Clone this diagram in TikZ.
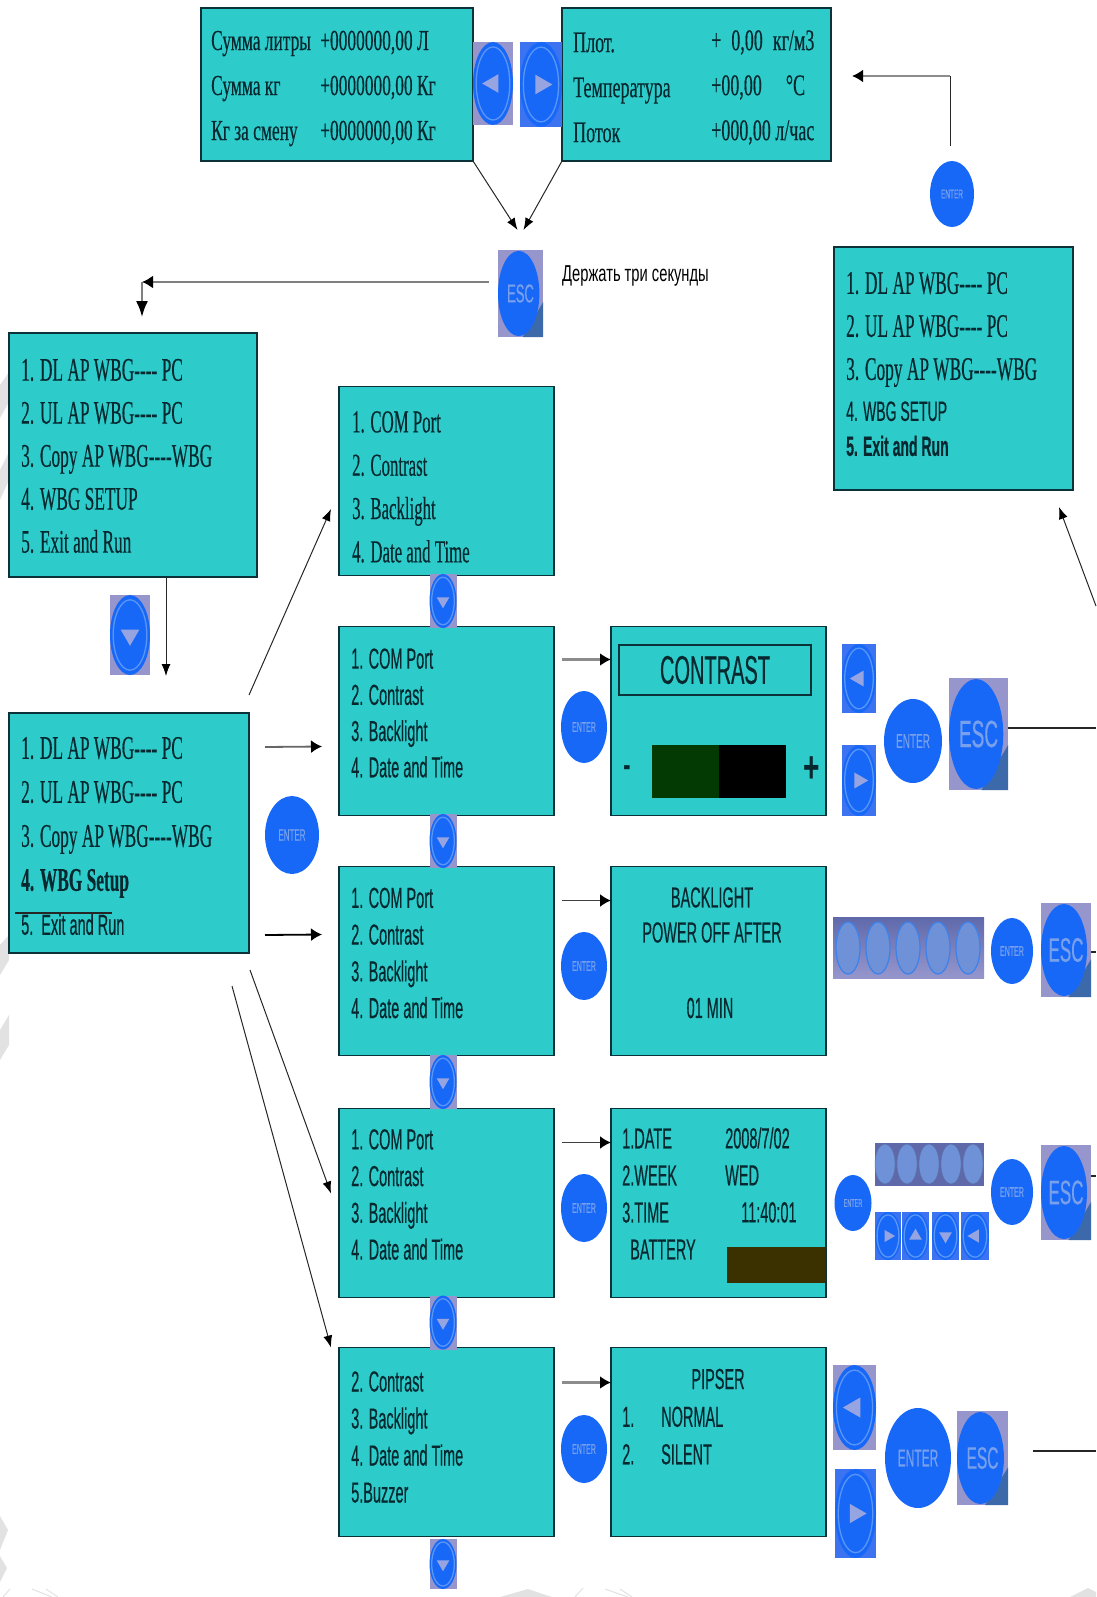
\documentclass[tikz,border=0pt]{standalone}
\usepackage{fontspec}
\usetikzlibrary{arrows.meta,positioning,calc,shapes.geometric}
\newfontfamily\lcdserif[FakeStretch=0.525,FakeBold=0.3]{Liberation Serif}
\newfontfamily\topserif[FakeStretch=0.6,FakeBold=0.3]{Liberation Serif}
\newfontfamily\lcdsans[FakeStretch=0.5,FakeBold=0.3]{Liberation Sans}
\newfontfamily\widesans[FakeStretch=0.64]{Liberation Sans}
\newcommand{\serifsize}[2]{\lcdserif\fontsize{#1}{#2}\selectfont}
\newcommand{\topsize}[2]{\topserif\fontsize{#1}{#2}\selectfont}
\newcommand{\sanssize}[2]{\lcdsans\fontsize{#1}{#2}\selectfont}
\newcommand{\widesize}[2]{\widesans\fontsize{#1}{#2}\selectfont}
\definecolor{lcdfill}{RGB}{46,203,203}
\definecolor{lcdedge}{RGB}{10,50,56}
\definecolor{lcdink}{RGB}{6,40,46}
\definecolor{keyblue}{RGB}{24,104,248}
\definecolor{keyring}{RGB}{90,150,245}
\definecolor{keyback}{RGB}{150,150,205}
\definecolor{keybacktwo}{RGB}{60,115,240}
\definecolor{keymark}{RGB}{150,165,225}
\definecolor{keytext}{RGB}{120,160,235}
\definecolor{keycorner}{RGB}{60,105,170}
\definecolor{stripkey}{RGB}{110,145,215}
\definecolor{stripring}{RGB}{60,130,235}
\definecolor{stripdark}{RGB}{95,105,170}
\definecolor{wmark}{RGB}{226,226,226}
\tikzset{
  arrowkey/.style n args={3}{rectangle,inner sep=0pt,outer sep=0pt,fill=keyback,minimum width=#2pt,minimum height=#3pt,
    path picture={
      \coordinate (kc) at (path picture bounding box.center);
      \fill[keyblue] (kc) ellipse [x radius={0.5*#2pt},y radius={0.5*#3pt}];
      \draw[keyring,line width=1.3pt] (kc) ellipse [x radius={0.42*#2pt},y radius={0.44*#3pt}];
      \fill[keymark] ([shift={(#1:{0.27*#2pt})}]kc) -- ([shift={({#1+120}:{0.27*#2pt})}]kc) -- ([shift={({#1+240}:{0.27*#2pt})}]kc) -- cycle;
    }},
  esckey/.style 2 args={rectangle,inner sep=0pt,outer sep=0pt,fill=keyback,text=keytext,minimum width=#1pt,minimum height=#2pt,
    path picture={
      \coordinate (kc) at (path picture bounding box.center);
      \fill[keycorner] (path picture bounding box.south east) -- ++({-0.45*#1pt},0pt) -- ++({0.45*#1pt},{0.4*#2pt}) -- cycle;
      \fill[keyblue] ([xshift={-0.04*#1pt}]kc) ellipse [x radius={0.46*#1pt},y radius={0.49*#2pt}];
    }},
  enterkey/.style 2 args={ellipse,inner sep=0pt,outer sep=0pt,fill=keyblue,text=keytext,minimum width=#1pt,minimum height=#2pt}
}
\begin{document}
\begin{tikzpicture}[x=1pt,y=-1pt]
        \tikzstyle{lcd} = [rectangle,draw=lcdedge,fill=lcdfill,line width=1.8pt,inner sep=0pt,outer sep=0pt]
        \tikzstyle{scr} = [anchor=west,align=left,inner sep=0pt,text=lcdink]
        \tikzstyle{mid} = [lcd,minimum width=215pt,minimum height=189pt]
        \tikzstyle{fkey} = [ellipse,fill=stripkey,draw=stripring,line width=1.2pt,inner sep=0pt,minimum width=24pt,minimum height=52pt,node distance=30pt]
        \tikzstyle{gkey} = [ellipse,fill=stripkey,draw=stripkey!80!black,inner sep=0pt,minimum width=20pt,minimum height=40pt,node distance=22pt]
        \tikzstyle{flowgray} = [draw=black!45,line width=2.4pt,-{Latex[black,length=11pt,width=13pt]}]
        \tikzstyle{flowdark} = [draw=black!75,line width=1.8pt,-{Latex[black,length=11pt,width=13pt]}]
        \tikzstyle{link} = [draw=black!85,line width=1pt,-{Latex[black,length=12pt,width=9pt]}]
        \tikzstyle{wire} = [draw=black!85,line width=1.3pt]
        \tikzstyle{wm} = [fill=wmark,draw=none]
        \useasboundingbox (0,0) rectangle (1096,1597);

        % watermark at the edges
        \fill[wm] (0,385) -- (9,372) -- (9,402) -- (0,418) -- cycle;
        \fill[wm] (0,470) -- (9,452) -- (9,480) -- (0,500) -- cycle;
        \fill[wm] (0,945) -- (9,935) -- (9,960) -- (0,975) -- cycle;
        \fill[wm] (0,1030) -- (9,1015) -- (9,1045) -- (0,1060) -- cycle;
        \fill[wm] (0,1516) -- (8,1530) -- (0,1550) -- cycle;
        \fill[wm] (0,1556) -- (7,1568) -- (0,1582) -- cycle;
        \fill[wm] (500,1597) -- (528,1589) -- (552,1597) -- cycle;
        \fill[wm] (1070,1597) -- (1088,1588) -- (1096,1592) -- (1096,1597) -- cycle;
        \draw[wmark,line width=1pt] (575,1597) -- (583,1588) (605,1589) -- (628,1597) (620,1589) -- (632,1597);
        \draw[wmark,line width=1pt] (3,1597) -- (10,1589) (32,1589) -- (52,1597) (46,1589) -- (58,1597);

        % top screens
        \node[lcd,minimum width=272pt,minimum height=153pt] (sum) at (337,84.5) {};
        \node[lcd,minimum width=269pt,minimum height=153pt] (plot) at (696.5,84.5) {};
        \node[scr,font=\topsize{29}{45}] (sumt) at ([shift={(10,4)}]sum.west) {\makebox[109pt][l]{Сумма литры}+0000000,00 Л\\\makebox[109pt][l]{Сумма кг}+0000000,00 Кг\\\makebox[109pt][l]{Кг за смену}+0000000,00 Кг};
        \node[scr,font=\topsize{30}{45}] (plott) at ([shift={(11,3)}]plot.west) {Плот.\\Температура\\Поток};
        \node[scr,font=\topsize{30}{45}] (plotv) at ([shift={(149,3)}]plot.west) {+\hspace{10pt}0,00\hspace{10pt}кг/м3\\+00,00\hspace{24pt}°C\\+000,00 л/час};
        \node[arrowkey={180}{40}{83}] (keyl) at (493,83.5) {};
        \node[arrowkey={0}{42}{85},fill=keybacktwo] (keyr) at (541,84.5) {};
        \node[esckey={45}{87},font=\sanssize{26}{26}] (esctop) at (520.5,293.5) {ESC};
        \node[scr,font=\widesize{23}{23},text=black] (hold) at (562,276) {Держать три секунды};
        \draw[link] (sum.south east) -- ([shift={(-3,-20)}]esctop.north);
        \draw[link] (plot.south west) -- ([shift={(3,-20)}]esctop.north);

        % left column
        \node[lcd,minimum width=248pt,minimum height=244pt] (dl) at (133,455) {};
        \node[scr,font=\serifsize{33}{43}] (dlt) at ([shift={(12,1)}]dl.west) {1. DL AP WBG---- PC\\2. UL AP WBG---- PC\\3. Copy AP WBG----WBG\\4. WBG SETUP\\5. Exit and Run};
        \coordinate (bend) at (142,282);
        \draw[flowgray,draw=black!50,line width=2pt] ([shift={(-9,-11.5)}]esctop.west) -- (bend);
        \draw[link,draw=black!50,line width=2pt,-{Latex[black,length=16pt,width=12pt]}] (bend) -- ([shift={(0,-16)}]bend |- dl.north);
        \node[arrowkey={270}{40}{80}] (keydown) at (130,635) {};
        \node[lcd,minimum width=240pt,minimum height=240pt] (setup) at (129,833) {};
        \node[scr,font=\serifsize{33}{44}] (setupt) at ([shift={(12,3)}]setup.west) {1. DL AP WBG---- PC\\2. UL AP WBG---- PC\\3. Copy AP WBG----WBG\\\textbf{4. WBG Setup}\\{\sanssize{29}{44}5.\ \ Exit and Run}};
        \coordinate (strikea) at (15,913);
        \coordinate (strikeb) at (112,913);
        \draw[wire] (strikea) -- (strikeb);
        \draw[link] ([xshift=33pt]dl.south) -- ([shift={(33,-37)}]dl.south |- setup.north);
        \node[enterkey={54}{78},font=\sanssize{16}{16}] (enterleft) at (292,835) {ENTER};

        % middle column
        \node[mid] (m1) at (446.5,481) {};
        \node[mid,below of=m1,node distance=240pt] (m2) {};
        \node[mid,below of=m2,node distance=240pt] (m3) {};
        \node[mid,below of=m3,node distance=242pt] (m4) {};
        \node[mid,below of=m4,node distance=239pt] (m5) {};
        \node[scr,font=\serifsize{32}{43.3}] (m1t) at ([shift={(13,6)}]m1.west) {1. COM Port\\2. Contrast\\3. Backlight\\4. Date and Time};
        \node[scr,font=\sanssize{29}{36.2}] (m2t) at ([shift={(12,-8)}]m2.west) {1. COM Port\\2. Contrast\\3. Backlight\\4. Date and Time};
        \node[scr,font=\sanssize{29}{36.7}] (m3t) at ([shift={(12,-8)}]m3.west) {1. COM Port\\2. Contrast\\3. Backlight\\4. Date and Time};
        \node[scr,font=\sanssize{29}{36.7}] (m4t) at ([shift={(12,-8.5)}]m4.west) {1. COM Port\\2. Contrast\\3. Backlight\\4. Date and Time};
        \node[scr,font=\sanssize{29}{37}] (m5t) at ([shift={(12,-5)}]m5.west) {2. Contrast\\3. Backlight\\4. Date and Time\\5.Buzzer};
        \node[arrowkey={270}{27}{54}] (d1) at ($(m1.south)!0.5!(m2.north)+(-3.5,0)$) {};
        \node[arrowkey={270}{27}{54}] (d2) at ($(m2.south)!0.5!(m3.north)+(-3.5,0)$) {};
        \node[arrowkey={270}{27}{54}] (d3) at ($(m3.south)!0.5!(m4.north)+(-3.5,0)$) {};
        \node[arrowkey={270}{27}{54}] (d4) at ($(m4.south)!0.5!(m5.north)+(-3.5,0)$) {};
        \node[arrowkey={270}{27}{50}] (d5) at (443,1564) {};

        % links from the setup screen
        \draw[flowdark,draw=black!60] ([shift={(16,34)}]setup.north east) -- ([shift={(-17,120)}]m2.north west);
        \draw[flowdark,draw=black] ([shift={(16,222)}]setup.north east) -- ([shift={(-17,68)}]m3.north west);
        \draw[link] ([shift={(0,-18)}]setup.north east) -- ([shift={(-8,28)}]m1.west);
        \draw[link] ([shift={(1,17)}]setup.south east) -- ([shift={(-8,85)}]m4.north west);
        \draw[link] ([shift={(-17,33)}]setup.south east) -- ([shift={(-8,0)}]m5.north west);

        % enter keys and right screens
        \node[enterkey={46}{72},font=\sanssize{14}{14}] (e2) at (584,727) {ENTER};
        \node[enterkey={46}{68},font=\sanssize{14}{14}] (e3) at (584,966) {ENTER};
        \node[enterkey={46}{68},font=\sanssize{14}{14}] (e4) at (584,1208) {ENTER};
        \node[enterkey={46}{68},font=\sanssize{14}{14}] (e5) at (584,1449) {ENTER};
        \node[mid,right of=m2,node distance=272pt] (r2) {};
        \node[mid,right of=m3,node distance=272pt] (r3) {};
        \node[mid,right of=m4,node distance=272pt] (r4) {};
        \node[mid,right of=m5,node distance=272pt] (r5) {};
        \draw[flowgray] ([shift={(8,33)}]m2.north east) -- ([shift={(0,33)}]r2.north west);
        \draw[flowdark] ([shift={(8,34)}]m3.north east) -- ([shift={(0,34)}]r3.north west);
        \draw[flowdark] ([shift={(8,34)}]m4.north east) -- ([shift={(0,34)}]r4.north west);
        \draw[flowgray] ([shift={(8,35)}]m5.north east) -- ([shift={(0,35)}]r5.north west);

        % contrast
        \node[lcd,minimum width=192pt,minimum height=50pt,line width=1.5pt,font=\sanssize{40}{40},text=lcdink] (contrast) at (715,670) {CONTRAST};
        \node[rectangle,inner sep=0pt,minimum width=67pt,minimum height=53pt,fill={rgb,255:red,3;green,58;blue,3}] (bargreen) at (685.5,771.5) {};
        \node[rectangle,fill=black,inner sep=0pt,minimum width=67pt,minimum height=53pt,right=0pt of bargreen] (barblack) {};
        \node[font=\widesize{34}{34},text=lcdink,inner sep=0pt,left=21pt of bargreen] (minus) {\textbf{-}};
        \node[font=\widesize{44}{44},text=lcdink,inner sep=0pt,right=17pt of barblack,yshift=2pt] (plus) {\textbf{+}};
        \node[arrowkey={180}{34}{69},fill=keybacktwo] (k2l) at (859,678.5) {};
        \node[arrowkey={0}{34}{71},fill=keybacktwo] (k2r) at (859,780.5) {};
        \node[enterkey={58}{84},font=\sanssize{20}{20}] (k2e) at (913,741) {ENTER};
        \node[esckey={59}{112},font=\sanssize{38}{38}] (k2x) at (978.5,734) {ESC};
        \coordinate (out2) at (1096,728);
        \draw[wire] ([shift={(0,-6)}]k2x.east) -- (out2);

        % backlight
        \node[align=center,text=lcdink,inner sep=0pt,font=\sanssize{29}{35}] (r3t) at (712,915) {BACKLIGHT\\POWER OFF AFTER};
        \node[align=center,text=lcdink,inner sep=0pt,font=\sanssize{29}{35}] (r3m) at (710,1008) {01 MIN};
        \node[rectangle,top color=stripdark,bottom color=keyback,inner sep=0pt,minimum width=151pt,minimum height=61pt] (fstrip) at (908.5,947.5) {};
        \node[fkey] (f1) at (848,948) {};
        \node[fkey,right of=f1] (f2) {};
        \node[fkey,right of=f2] (f3) {};
        \node[fkey,right of=f3] (f4) {};
        \node[fkey,right of=f4] (f5) {};
        \node[enterkey={42}{66},font=\sanssize{14}{14}] (k3e) at (1012,951) {ENTER};
        \node[esckey={50}{94},font=\sanssize{34}{34}] (k3x) at (1066,950) {ESC};
        \coordinate (out3) at (1096,952);
        \draw[wire] ([shift={(0,2)}]k3x.east) -- (out3);

        % date and time
        \node[scr,font=\sanssize{29}{37}] (r4l) at ([shift={(11,-9)}]r4.west) {1.DATE\\2.WEEK\\3.TIME\\\hspace{8pt}BATTERY};
        \node[scr,font=\sanssize{29}{37}] (r4v) at ([shift={(114,-28)}]r4.west) {2008/7/02\\WED\\\hspace{16pt}11:40:01};
        \node[rectangle,fill={rgb,255:red,58;green,48;blue,0},inner sep=0pt,minimum width=99pt,minimum height=36pt] (battery) at (776.5,1265) {};
        \node[enterkey={37}{56},font=\sanssize{11}{11}] (k4a) at (853,1203) {ENTER};
        \node[rectangle,fill=stripdark,inner sep=0pt,minimum width=109pt,minimum height=43pt] (gstrip) at (929.5,1164.5) {};
        \node[gkey] (g1) at (885,1164) {};
        \node[gkey,right of=g1] (g2) {};
        \node[gkey,right of=g2] (g3) {};
        \node[gkey,right of=g3] (g4) {};
        \node[gkey,right of=g4] (g5) {};
        \node[arrowkey={0}{26}{48},fill=keybacktwo] (p1) at (888,1236) {};
        \node[arrowkey={90}{27}{48},fill=keybacktwo] (p2) at (915.5,1236) {};
        \node[arrowkey={270}{27}{48},fill=keybacktwo] (p3) at (945.5,1236) {};
        \node[arrowkey={180}{28}{48},fill=keybacktwo] (p4) at (975,1236) {};
        \node[enterkey={42}{66},font=\sanssize{14}{14}] (k4e) at (1012,1192) {ENTER};
        \node[esckey={50}{95},font=\sanssize{34}{34}] (k4x) at (1066,1192.5) {ESC};
        \coordinate (out4) at (1096,1176);
        \draw[wire] ([shift={(0,-16.5)}]k4x.east) -- (out4);

        % buzzer
        \node[text=lcdink,inner sep=0pt,font=\sanssize{29}{35}] (r5t) at (718,1379) {PIPSER};
        \node[scr,font=\sanssize{29}{37.5}] (r5l) at ([shift={(11,-6.5)}]r5.west) {\makebox[39pt][l]{1.}NORMAL\\\makebox[39pt][l]{2.}SILENT};
        \node[arrowkey={180}{43}{85}] (k5l) at (854.5,1407.5) {};
        \node[arrowkey={0}{41}{89},fill=keybacktwo] (k5r) at (855.5,1513.5) {};
        \node[enterkey={66}{100},font=\sanssize{24}{24}] (k5e) at (918,1458) {ENTER};
        \node[esckey={51}{94},font=\sanssize{31}{31}] (k5x) at (982.5,1458) {ESC};
        \coordinate (out5) at (1096,1451);
        \draw[wire] ([shift={(25,-7)}]k5x.east) -- (out5);

        % upper right
        \node[lcd,minimum width=239pt,minimum height=243pt] (dlr) at (953.5,368.5) {};
        \node[scr,font=\serifsize{33}{43}] (dlrt) at ([shift={(12,-39)}]dlr.west) {1. DL AP WBG---- PC\\2. UL AP WBG---- PC\\3. Copy AP WBG----WBG};
        \node[scr,font=\sanssize{28}{35},below=14pt of dlrt.south west,anchor=north west] (dlrb) {4. WBG SETUP\\\textbf{5. Exit and Run}};
        \node[enterkey={44}{66},font=\sanssize{13}{13}] (entertop) at (952,194) {ENTER};
        \coordinate (corner) at (950,76);
        \draw[wire,line width=1pt] ([shift={(0,-15)}]corner |- entertop.north) -- (corner);
        \draw[flowgray] (corner) -- ([xshift=21pt]corner -| plot.east);
        \coordinate (out1) at (1096,606);
        \draw[link] (out1) -- ([shift={(-14,17)}]dlr.south east);
\end{tikzpicture}
\end{document}
